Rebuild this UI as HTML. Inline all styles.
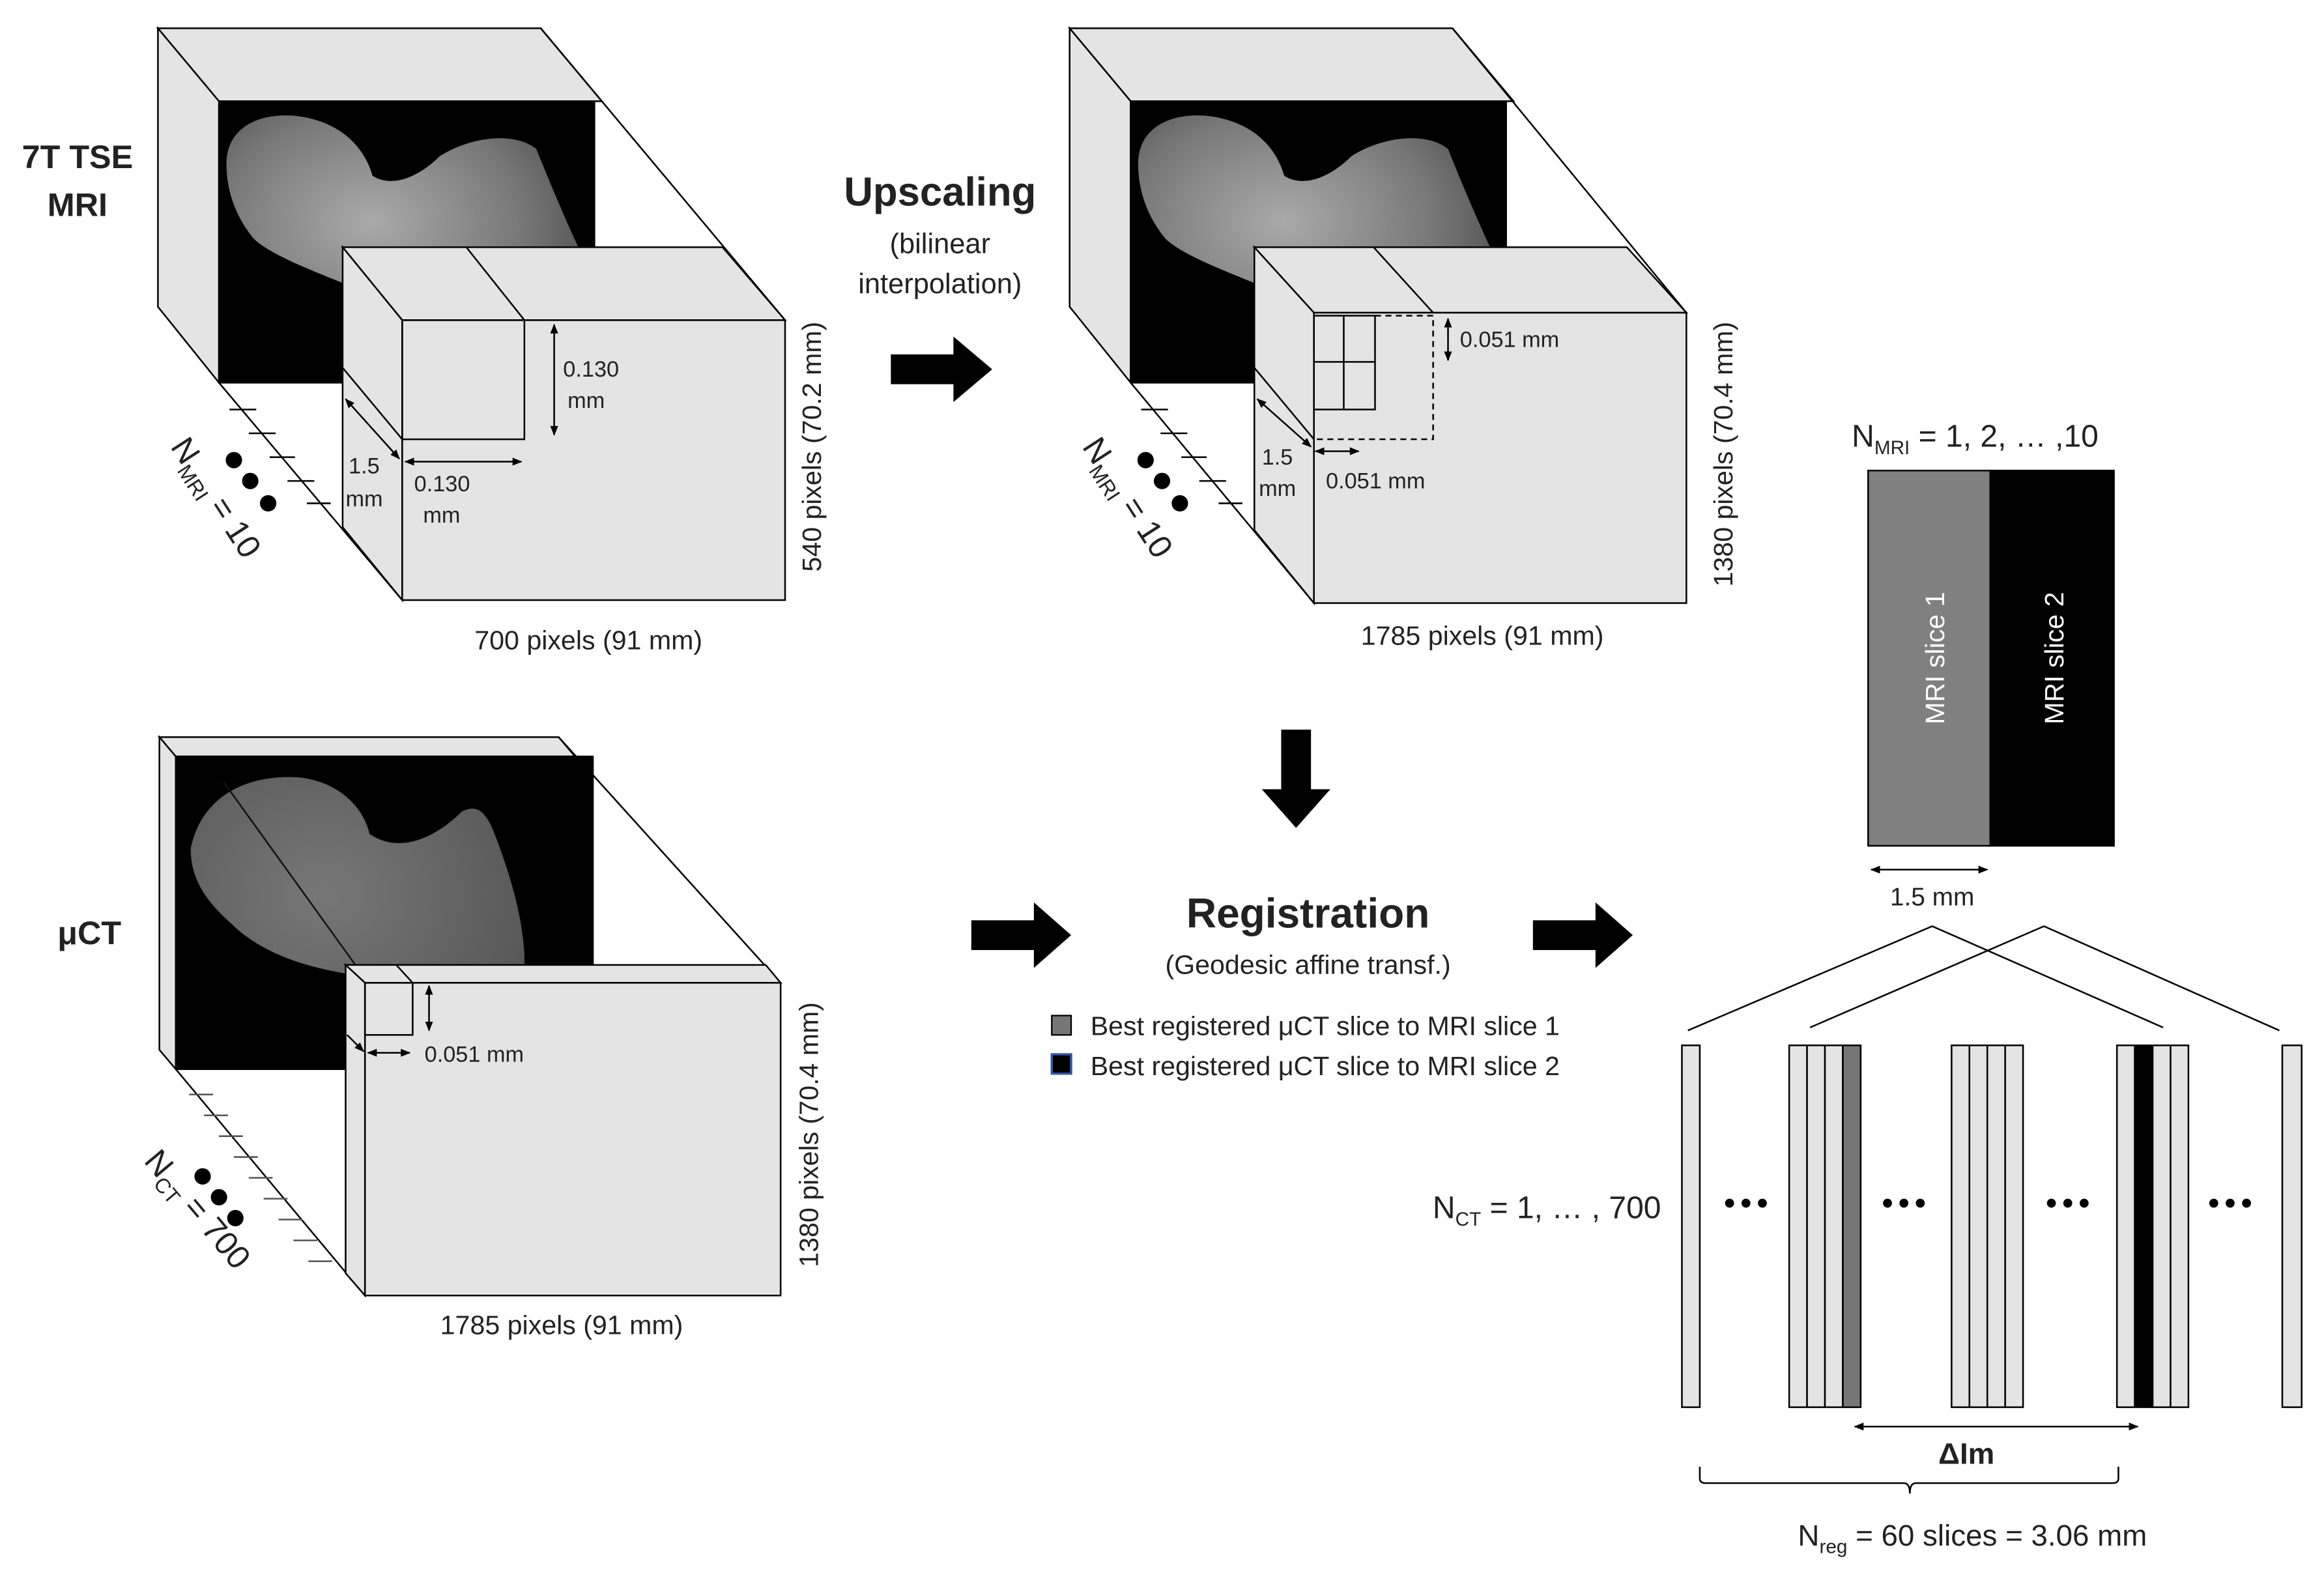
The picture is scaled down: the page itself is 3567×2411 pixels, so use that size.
<!DOCTYPE html>
<html><head><meta charset="utf-8"><style>
html,body{margin:0;padding:0;background:#fff;}
svg{display:block;}
text{font-family:"Liberation Sans",sans-serif;fill:#222;}
</style></head><body>
<svg width="3567" height="2411" viewBox="0 0 1560 1055" preserveAspectRatio="none" xmlns="http://www.w3.org/2000/svg">
<defs>
<marker id="ah" viewBox="0 0 10 10" refX="9" refY="5" markerWidth="6" markerHeight="6" orient="auto-start-reverse"><path d="M0,1 L10,5 L0,9 z" fill="#000"/></marker>
<radialGradient id="bone" cx="0.4" cy="0.4" r="0.7"><stop offset="0" stop-color="#aaa"/><stop offset="0.6" stop-color="#777"/><stop offset="1" stop-color="#444"/></radialGradient>
<radialGradient id="bone2" cx="0.4" cy="0.4" r="0.7"><stop offset="0" stop-color="#777"/><stop offset="1" stop-color="#555"/></radialGradient>
<clipPath id="c1"><rect x="147" y="68" width="252" height="189"/></clipPath>
<clipPath id="c3"><rect x="118" y="508" width="280" height="210"/></clipPath>
</defs>
<g stroke="#000" stroke-width="1.1">

<!-- ===== Cube 1 (MRI) ===== -->
<polygon points="106,19 363,19 404,68 147,68" fill="#e4e4e4"/>
<polygon points="106,19 147,68 147,257 106,206" fill="#e4e4e4"/>
<rect x="147" y="68" width="252" height="189" fill="#000"/>
<path clip-path="url(#c1)" d="M152,110 C152,85 175,75 200,78 C230,82 245,100 250,118 C262,126 280,120 295,105 C315,92 345,88 360,100 C372,130 385,160 395,180 L395,257 L230,257 L230,190 C205,180 180,170 170,160 C158,145 152,128 152,110 z" fill="url(#bone)" stroke="none"/>
<line x1="363" y1="19" x2="527" y2="215"/>
<line x1="147" y1="257" x2="270" y2="403"/>
<polygon points="230,166 485,166 527,215 270,215" fill="#e4e4e4"/>
<polygon points="230,166 270,215 270,403 230,354" fill="#e4e4e4"/>
<rect x="270" y="215" width="257" height="188" fill="#e4e4e4"/>
<line x1="313" y1="166" x2="352" y2="215"/>
<line x1="230" y1="247" x2="270" y2="295"/>
<line x1="154" y1="275" x2="172" y2="275"/><line x1="167" y1="291" x2="185" y2="291"/><line x1="181" y1="307" x2="198" y2="307"/><line x1="193" y1="323" x2="211" y2="323"/><line x1="206" y1="338" x2="222" y2="338"/>
<rect x="270" y="215" width="82" height="80" fill="none"/>
<line x1="372" y1="218" x2="372" y2="292" marker-start="url(#ah)" marker-end="url(#ah)"/>
<line x1="272" y1="310" x2="350" y2="310" marker-start="url(#ah)" marker-end="url(#ah)"/>
<line x1="232" y1="268" x2="268" y2="308" marker-start="url(#ah)" marker-end="url(#ah)"/>
<circle cx="157" cy="309" r="5.5" fill="#000" stroke="none"/><circle cx="168" cy="323" r="5.5" fill="#000" stroke="none"/><circle cx="180" cy="338" r="5.5" fill="#000" stroke="none"/>

<!-- ===== Cube 2 (Upscaled) ===== -->
<g transform="translate(612,0)">
<polygon points="106,19 363,19 404,68 147,68" fill="#e4e4e4"/>
<polygon points="106,19 147,68 147,257 106,206" fill="#e4e4e4"/>
<rect x="147" y="68" width="252" height="189" fill="#000"/>
<path clip-path="url(#c1)" d="M152,110 C152,85 175,75 200,78 C230,82 245,100 250,118 C262,126 280,120 295,105 C315,92 345,88 360,100 C372,130 385,160 395,180 L395,257 L230,257 L230,190 C205,180 180,170 170,160 C158,145 152,128 152,110 z" fill="url(#bone)" stroke="none"/>
<line x1="363" y1="19" x2="520" y2="210"/>
<line x1="147" y1="257" x2="270" y2="405"/>
<polygon points="230,166 480,166 520,210 270,210" fill="#e4e4e4"/>
<polygon points="230,166 270,210 270,405 230,356" fill="#e4e4e4"/>
<rect x="270" y="210" width="250" height="195" fill="#e4e4e4"/>
<line x1="310" y1="166" x2="350" y2="210"/>
<line x1="230" y1="247" x2="270" y2="295"/>
<rect x="270" y="212" width="41" height="63" fill="none"/>
<line x1="290" y1="212" x2="290" y2="275"/><line x1="270" y1="243" x2="311" y2="243"/>
<polyline points="311,212 350,212 350,295 270,295" fill="none" stroke-dasharray="4,3"/>
<line x1="360" y1="214" x2="360" y2="242" marker-start="url(#ah)" marker-end="url(#ah)"/>
<line x1="271" y1="303" x2="300" y2="303" marker-start="url(#ah)" marker-end="url(#ah)"/>
<line x1="232" y1="268" x2="268" y2="300" marker-start="url(#ah)" marker-end="url(#ah)"/>
<line x1="154" y1="275" x2="172" y2="275"/><line x1="167" y1="291" x2="185" y2="291"/><line x1="181" y1="307" x2="198" y2="307"/><line x1="193" y1="323" x2="211" y2="323"/><line x1="206" y1="338" x2="222" y2="338"/>
<circle cx="157" cy="309" r="5.5" fill="#000" stroke="none"/><circle cx="168" cy="323" r="5.5" fill="#000" stroke="none"/><circle cx="180" cy="338" r="5.5" fill="#000" stroke="none"/>
</g>

<!-- ===== Cube 3 (uCT) ===== -->
<polygon points="107,495 375,495 386,508 118,508" fill="#e4e4e4"/>
<polygon points="107,495 118,508 118,718 107,705" fill="#e4e4e4"/>
<rect x="118" y="508" width="280" height="210" fill="#000"/>
<path clip-path="url(#c3)" d="M128,570 C135,535 165,520 200,522 C230,525 245,545 248,560 C270,575 295,560 310,545 C320,540 325,545 330,555 C340,580 350,610 352,640 L352,718 L240,718 L240,655 C205,650 175,640 155,620 C138,605 128,590 128,570 z" fill="url(#bone2)" stroke="none"/>
<line x1="150" y1="525" x2="240" y2="650" stroke="#111"/>
<line x1="375" y1="495" x2="524" y2="660"/>
<line x1="118" y1="718" x2="245" y2="870"/>
<polygon points="232,648 514,648 524,660 245,660" fill="#e4e4e4"/>
<polygon points="232,648 245,660 245,870 232,855" fill="#e4e4e4"/>
<rect x="245" y="660" width="279" height="210" fill="#e4e4e4"/>
<line x1="266" y1="648" x2="277" y2="660"/>
<rect x="245" y="660" width="32" height="35" fill="none"/>
<line x1="288" y1="662" x2="288" y2="692" marker-start="url(#ah)" marker-end="url(#ah)"/>
<line x1="247" y1="707" x2="275" y2="707" marker-start="url(#ah)" marker-end="url(#ah)"/>
<line x1="233" y1="695" x2="244" y2="706" marker-end="url(#ah)"/>
<g stroke="#555"><line x1="127" y1="735" x2="143" y2="735"/><line x1="137" y1="749" x2="153" y2="749"/><line x1="147" y1="763" x2="163" y2="763"/><line x1="157" y1="777" x2="173" y2="777"/><line x1="167" y1="791" x2="183" y2="791"/><line x1="177" y1="805" x2="193" y2="805"/><line x1="187" y1="819" x2="203" y2="819"/><line x1="197" y1="833" x2="213" y2="833"/><line x1="207" y1="847" x2="223" y2="847"/></g>
<circle cx="136" cy="790" r="5.5" fill="#000" stroke="none"/><circle cx="147" cy="804" r="5.5" fill="#000" stroke="none"/><circle cx="158" cy="818" r="5.5" fill="#000" stroke="none"/>

<!-- ===== Right panel ===== -->
<rect x="1254" y="316" width="82" height="252" fill="#808080"/>
<rect x="1336" y="316" width="83" height="252" fill="#000"/>
<line x1="1256" y1="584" x2="1334" y2="584" marker-start="url(#ah)" marker-end="url(#ah)"/>
<polyline points="1133,692 1297,622 1452,690" fill="none"/>
<polyline points="1215,690 1372,622 1530,692" fill="none"/>
<g fill="#e4e4e4">
<rect x="1129" y="702" width="12" height="243"/>
<rect x="1201" y="702" width="12" height="243"/><rect x="1213" y="702" width="12" height="243"/><rect x="1225" y="702" width="12" height="243"/><rect x="1237" y="702" width="12" height="243" fill="#777"/>
<rect x="1310" y="702" width="12" height="243"/><rect x="1322" y="702" width="12" height="243"/><rect x="1334" y="702" width="12" height="243"/><rect x="1346" y="702" width="12" height="243"/>
<rect x="1421" y="702" width="12" height="243"/><rect x="1433" y="702" width="12" height="243" fill="#000"/><rect x="1445" y="702" width="12" height="243"/><rect x="1457" y="702" width="12" height="243"/>
<rect x="1532" y="702" width="13" height="243"/>
</g>
<g fill="#000" stroke="none">
<circle cx="1161" cy="808" r="3"/><circle cx="1172" cy="808" r="3"/><circle cx="1183" cy="808" r="3"/>
<circle cx="1267" cy="808" r="3"/><circle cx="1278" cy="808" r="3"/><circle cx="1289" cy="808" r="3"/>
<circle cx="1377" cy="808" r="3"/><circle cx="1388" cy="808" r="3"/><circle cx="1399" cy="808" r="3"/>
<circle cx="1486" cy="808" r="3"/><circle cx="1497" cy="808" r="3"/><circle cx="1508" cy="808" r="3"/>
</g>
<line x1="1245" y1="958" x2="1435" y2="958" marker-start="url(#ah)" marker-end="url(#ah)"/>
<path d="M1141,985 L1141,993 Q1141,996 1145,996 L1278,996 Q1282,996 1282,1003 Q1282,996 1286,996 L1418,996 Q1422,996 1422,993 L1422,985" fill="none"/>
</g>

<!-- block arrows -->
<g fill="#000">
<polygon points="598,238 640,238 640,226 666,248 640,270 640,258 598,258"/>
<polygon points="652,618 694,618 694,606 719,628 694,650 694,638 652,638"/>
<polygon points="1029,618 1071,618 1071,606 1096,628 1071,650 1071,638 1029,638"/>
<polygon points="860,490 880,490 880,530 893,530 870,556 847,530 860,530"/>
</g>

<!-- Text -->
<text x="52" y="113" font-size="22" font-weight="bold" text-anchor="middle">7T TSE</text>
<text x="52" y="145" font-size="22" font-weight="bold" text-anchor="middle">MRI</text>
<text x="60" y="634" font-size="22" font-weight="bold" text-anchor="middle">μCT</text>
<text x="631" y="138" font-size="27" font-weight="bold" text-anchor="middle">Upscaling</text>
<text x="631" y="170" font-size="19" text-anchor="middle">(bilinear</text>
<text x="631" y="197" font-size="19" text-anchor="middle">interpolation)</text>
<text x="878" y="623" font-size="28" font-weight="bold" text-anchor="middle">Registration</text>
<text x="878" y="654" font-size="18" text-anchor="middle">(Geodesic affine transf.)</text>
<rect x="706" y="682" width="13" height="13" fill="#777" stroke="#000"/>
<rect x="706" y="708" width="13" height="13" fill="#000" stroke="#3355aa" stroke-width="1.5"/>
<text x="732" y="695" font-size="18">Best registered μCT slice to MRI slice 1</text>
<text x="732" y="722" font-size="18">Best registered μCT slice to MRI slice 2</text>

<text x="378" y="253" font-size="15">0.130</text><text x="381" y="274" font-size="15">mm</text>
<text x="278" y="330" font-size="15">0.130</text><text x="284" y="351" font-size="15">mm</text>
<text x="234" y="318" font-size="15">1.5</text><text x="232" y="340" font-size="15">mm</text>
<text x="395" y="436" font-size="18" text-anchor="middle">700 pixels (91 mm)</text>
<text transform="translate(551,300) rotate(-90)" font-size="18" text-anchor="middle">540 pixels (70.2 mm)</text>
<text transform="translate(114,300) rotate(57)" font-size="22">N<tspan font-size="14" dy="5">MRI</tspan><tspan dy="-5"> = 10</tspan></text>

<text x="980" y="233" font-size="15">0.051 mm</text>
<text x="890" y="328" font-size="15">0.051 mm</text>
<text x="847" y="312" font-size="15">1.5</text><text x="845" y="333" font-size="15">mm</text>
<text x="995" y="433" font-size="18" text-anchor="middle">1785 pixels (91 mm)</text>
<text transform="translate(1163,305) rotate(-90)" font-size="18" text-anchor="middle">1380 pixels (70.4 mm)</text>
<text transform="translate(726,300) rotate(57)" font-size="22">N<tspan font-size="14" dy="5">MRI</tspan><tspan dy="-5"> = 10</tspan></text>

<text x="285" y="713" font-size="15">0.051 mm</text>
<text x="377" y="896" font-size="18" text-anchor="middle">1785 pixels (91 mm)</text>
<text transform="translate(549,762) rotate(-90)" font-size="18" text-anchor="middle">1380 pixels (70.4 mm)</text>
<text transform="translate(96,780) rotate(50)" font-size="22">N<tspan font-size="14" dy="5">CT</tspan><tspan dy="-5"> = 700</tspan></text>

<text x="1243" y="300" font-size="21">N<tspan font-size="13" dy="5">MRI</tspan><tspan dy="-5"> = 1, 2, … ,10</tspan></text>
<text transform="translate(1305,442) rotate(-90)" font-size="18" text-anchor="middle" style="fill:#fff">MRI slice 1</text>
<text transform="translate(1385,442) rotate(-90)" font-size="18" text-anchor="middle" style="fill:#fff">MRI slice 2</text>
<text x="1297" y="608" font-size="17" text-anchor="middle">1.5 mm</text>
<text x="1115" y="818" font-size="21" text-anchor="end">N<tspan font-size="13" dy="5">CT</tspan><tspan dy="-5"> = 1, … , 700</tspan></text>
<text x="1320" y="983" font-size="20" font-weight="bold" text-anchor="middle">ΔIm</text>
<text x="1324" y="1038" font-size="20" text-anchor="middle">N<tspan font-size="13" dy="5">reg</tspan><tspan dy="-5"> = 60 slices = 3.06 mm</tspan></text>
</svg>
</body></html>
